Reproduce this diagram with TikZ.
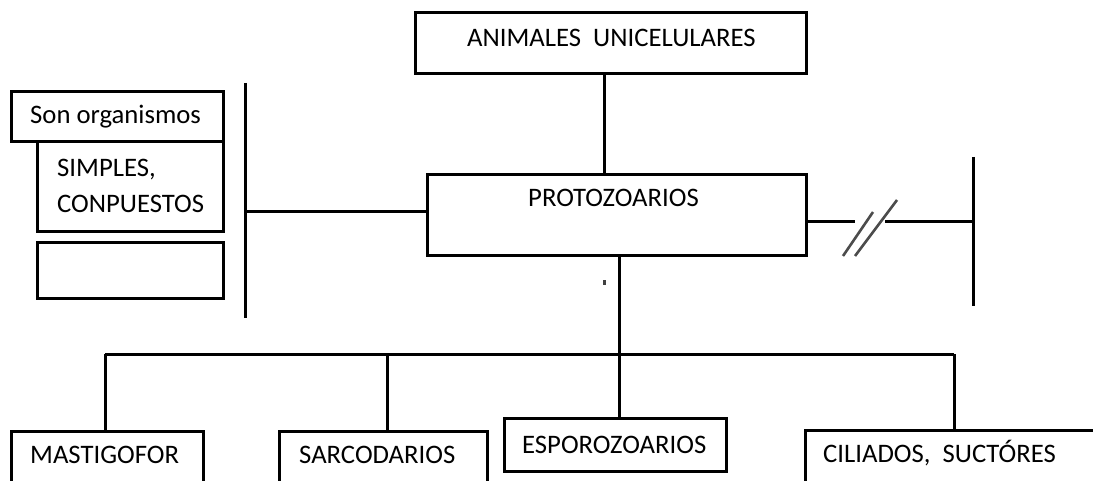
\documentclass[tikz,border=0pt]{standalone}
\usepackage{fontspec}
\setmainfont{Carlito}
\begin{document}
\begin{tikzpicture}[x=1pt,y=-1pt,
  box/.style={draw=black,line width=3pt,rectangle,inner sep=0pt,fill=none},
  lbl/.style={anchor=base west,inner sep=0pt,font=\fontsize{26.7}{31}\selectfont},
  conn/.style={draw=black,line width=3pt},
  slash/.style={draw=black!70,line width=2.6pt}]
\useasboundingbox (0,0) rectangle (1093,481);
% boxes
\node[box,minimum width=391pt,minimum height=61pt] (top) at (610.5,43.5) {};
\node[box,minimum width=379pt,minimum height=81pt] (proto) at (616.5,215.5) {};
\node[box,minimum width=212pt,minimum height=50pt] (son) at (117,117) {};
\node[box,minimum width=186pt,minimum height=90pt] (simp) at (130,187) {};
\node[box,minimum width=186pt,minimum height=56pt] (empty) at (130,271) {};
\node[box,minimum width=192pt,minimum height=89pt] (mast) at (107,475.5) {};
\node[box,minimum width=208pt,minimum height=89pt] (sarc) at (383,475.5) {};
\node[box,minimum width=222pt,minimum height=53pt] (espo) at (615,444.5) {};
\node[box,minimum width=325pt,minimum height=90pt] (cil) at (967.5,475) {};
% texts
\node[lbl] (ttop) at (467,47) {ANIMALES\ \ UNICELULARES};
\node[lbl] (tproto) at (528,207) {PROTOZOARIOS};
\node[lbl] (tson) at (30,124) {Son organismos};
\node[lbl] (tsimp) at (57,177) {SIMPLES,};
\node[lbl] (tcomp) at (57,213) {CONPUESTOS};
\node[lbl] (tmast) at (30,463) {MASTIGOFOR};
\node[lbl] (tsarc) at (299,463) {SARCODARIOS};
\node[lbl] (tespo) at (522,453) {ESPOROZOARIOS};
\node[lbl] (tcil) at (823,462) {CILIADOS,\ \ SUCT\'ORES};
% coordinates
\coordinate (xa) at (604,0);
\coordinate (lb1) at (245,83);
\coordinate (lb2) at (245,318);
\coordinate (ly) at (0,212);
\coordinate (rj) at (973,222);
\coordinate (rt) at (973,157);
\coordinate (rb) at (973,306);
\coordinate (g1) at (855,222);
\coordinate (g2) at (885,222);
\coordinate (tj) at (619,354);
\coordinate (hl) at (105,354);
\coordinate (hs) at (387,354);
\coordinate (hr) at (954,354);
% connectors
\draw[conn] (top.south -| xa) -- (proto.north -| xa);
\draw[conn] (lb1) -- (lb2);
\draw[conn] (proto.west |- ly) -- (lb1 |- ly);
\draw[conn] (rt) -- (rb);
\draw[conn] (proto.east |- rj) -- (g1);
\draw[conn] (g2) -- (rj);
\coordinate (s1a) at (843,256); \coordinate (s1b) at (873,212);
\coordinate (s2a) at (855,256); \coordinate (s2b) at (897,200);
\draw[slash] (s1a) -- (s1b);
\draw[slash] (s2a) -- (s2b);
\draw[conn] (proto.south -| tj) -- (tj);
\draw[conn] (hl) -- (hr);
\draw[conn] (hl) -- (mast.north -| hl);
\draw[conn] (hs) -- (sarc.north -| hs);
\draw[conn] (tj) -- (espo.north -| tj);
\draw[conn] (hr) -- (cil.north -| hr);
% small mark
\fill[black!75] (603,280) rectangle (605.5,285);
\end{tikzpicture}
\end{document}
